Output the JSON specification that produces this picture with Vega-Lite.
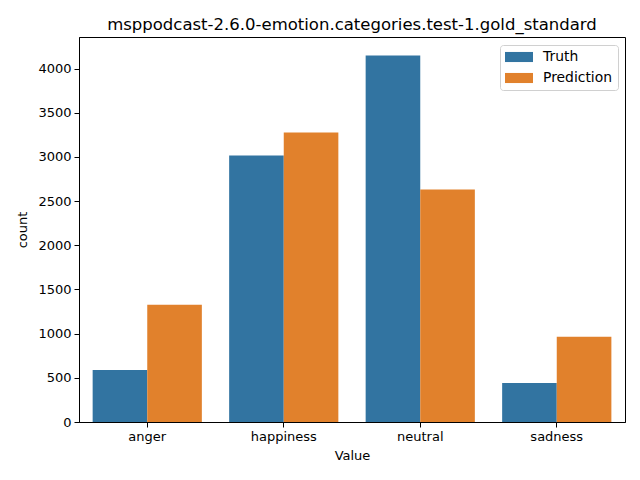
{
  "$schema": "https://vega.github.io/schema/vega-lite/v6.json",
  "width": 546,
  "height": 385,
  "autosize": {"type": "none"},
  "padding": {"left": 79, "top": 37, "right": 15, "bottom": 58},
  "background": "white",
  "title": {"text": "msppodcast-2.6.0-emotion.categories.test-1.gold_standard", "font": "DejaVu Sans", "fontSize": 16.5, "fontWeight": "normal", "color": "black", "anchor": "middle", "offset": 4},
  "config": {
    "view": {"stroke": "black", "strokeWidth": 1},
    "axis": {"labelFont": "DejaVu Sans", "titleFont": "DejaVu Sans", "labelFontSize": 13, "titleFontSize": 13, "titleFontWeight": "normal", "labelColor": "black", "titleColor": "black", "domainColor": "black", "tickColor": "black", "tickSize": 5, "labelPadding": 3, "grid": false}
  },
  "data": {"values": [
    {"Value": "anger", "group": "Truth", "count": 590},
    {"Value": "anger", "group": "Prediction", "count": 1327},
    {"Value": "happiness", "group": "Truth", "count": 3016},
    {"Value": "happiness", "group": "Prediction", "count": 3277},
    {"Value": "neutral", "group": "Truth", "count": 4150},
    {"Value": "neutral", "group": "Prediction", "count": 2631},
    {"Value": "sadness", "group": "Truth", "count": 442},
    {"Value": "sadness", "group": "Prediction", "count": 964}
  ]},
  "mark": {"type": "bar"},
  "encoding": {
    "x": {"field": "Value", "type": "nominal", "scale": {"paddingInner": 0.2, "paddingOuter": 0.1}, "axis": {"labelAngle": 0, "title": "Value", "titlePadding": 6}},
    "xOffset": {"field": "group", "type": "nominal", "sort": ["Truth", "Prediction"], "scale": {"paddingInner": 0, "paddingOuter": 0}},
    "y": {"field": "count", "type": "quantitative", "scale": {"domain": [0, 4358], "nice": false}, "axis": {"values": [0, 500, 1000, 1500, 2000, 2500, 3000, 3500, 4000], "format": "d", "title": "count", "titlePadding": 8}},
    "color": {"field": "group", "type": "nominal", "sort": ["Truth", "Prediction"], "scale": {"domain": ["Truth", "Prediction"], "range": ["#3274a1", "#e1812c"]},
      "legend": {"title": null, "orient": "none", "legendX": 421, "legendY": 8, "labelFont": "DejaVu Sans", "labelFontSize": 13.9, "labelColor": "black", "symbolType": "M-2,-0.72h4v1.44h-4z", "symbolSize": 196, "symbolOffset": 7, "symbolStrokeWidth": 0, "fillColor": "white", "strokeColor": "#d0d0d0", "cornerRadius": 3, "padding": 5, "rowPadding": 7, "labelOffset": 17}}
  }
}
